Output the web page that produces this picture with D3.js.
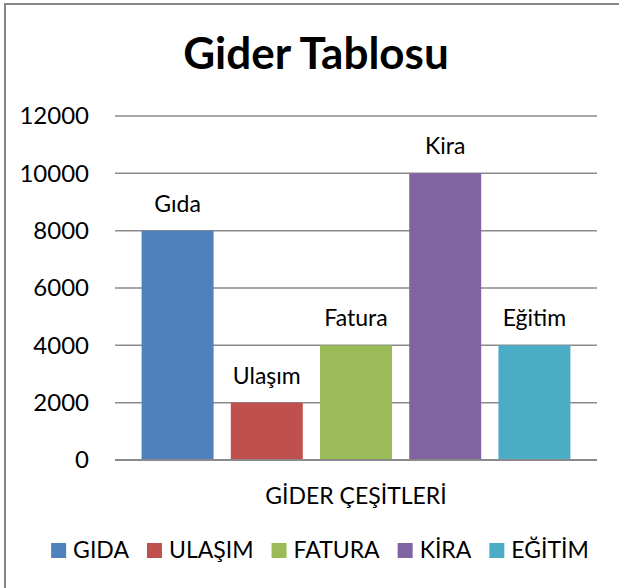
<!DOCTYPE html>
<html>
<head>
    <meta charset="utf-8">
    <title>Gider Tablosu</title>
    <script src="https://cdn.jsdelivr.net/npm/d3@7"></script>
    <style>
        body { margin: 0; background: #fff; }
        text { font-family: Lato, "Open Sans", sans-serif; fill: #000; }
    </style>
</head>
<body>
    <div id="chart"></div>
    <script>
        var categories = ["GİDER ÇEŞİTLERİ"];
        var seriesNames = ["GIDA", "ULAŞIM", "FATURA", "KİRA", "EĞİTİM"];
        var barLabels = ["Gıda", "Ulaşım", "Fatura", "Kira", "Eğitim"];
        var values = [8000, 2000, 4000, 10000, 4000];
        var colors = ["#4F81BD", "#C0504D", "#9BBB59", "#8064A2", "#4BACC6"];
        var yTicks = [0, 2000, 4000, 6000, 8000, 10000, 12000];

        var width = 619, height = 588;
        var plot = {left: 115, right: 597, top: 116, bottom: 460};

        var svg = d3.select("#chart").append("svg")
            .attr("width", width)
            .attr("height", height);

        // chart border (right and bottom edges fall outside the picture)
        svg.append("rect")
            .attr("x", 5).attr("y", 4)
            .attr("width", 800).attr("height", 800)
            .attr("fill", "none")
            .attr("stroke", "#868686")
            .attr("stroke-width", 2);

        svg.append("text")
            .attr("x", 316).attr("y", 69)
            .attr("text-anchor", "middle")
            .style("font-size", "44px")
            .style("font-weight", "bold")
            .text("Gider Tablosu");

        var y = d3.scaleLinear().domain([0, 12000]).range([plot.bottom, plot.top]);

        var x0 = d3.scaleBand().domain(categories)
            .range([plot.left, plot.right])
            .paddingInner(0).paddingOuter(0.062);
        var x1 = d3.scaleBand().domain(seriesNames)
            .range([0, x0.bandwidth()])
            .paddingInner(0.193).paddingOuter(0);

        // gridlines
        svg.append("g")
            .selectAll("line")
            .data(yTicks.filter(function(d) { return d > 0; }))
            .enter().append("line")
            .attr("x1", plot.left).attr("x2", plot.right)
            .attr("y1", function(d) { return y(d); })
            .attr("y2", function(d) { return y(d); })
            .attr("stroke", "#8a8a8a")
            .attr("stroke-width", 1.5);

        // y axis labels
        var yAxis = d3.axisLeft(y).tickValues(yTicks).tickFormat(d3.format("d"))
            .tickSize(0).tickPadding(26);
        var gy = svg.append("g")
            .attr("transform", "translate(" + plot.left + ",0)")
            .call(yAxis);
        gy.select(".domain").remove();
        gy.selectAll("text")
            .style("font-family", "Lato, sans-serif")
            .style("font-size", "24px")
            .attr("fill", "#000");

        var data = seriesNames.map(function(s, i) {
            return {series: s, label: barLabels[i], value: values[i], color: colors[i], cat: categories[0]};
        });

        var bars = svg.append("g");
        bars.selectAll("rect")
            .data(data)
            .enter().append("rect")
            .attr("x", function(d) { return x0(d.cat) + x1(d.series); })
            .attr("y", function(d) { return y(d.value); })
            .attr("width", x1.bandwidth())
            .attr("height", function(d) { return y(0) - y(d.value); })
            .attr("fill", function(d) { return d.color; });

        bars.selectAll("text")
            .data(data)
            .enter().append("text")
            .attr("x", function(d) { return x0(d.cat) + x1(d.series) + x1.bandwidth() / 2; })
            .attr("y", function(d) { return y(d.value) - 19; })
            .attr("text-anchor", "middle")
            .style("font-size", "23px")
            .text(function(d) { return d.label; });

        // x axis line
        svg.append("line")
            .attr("x1", plot.left).attr("x2", plot.right)
            .attr("y1", y(0)).attr("y2", y(0))
            .attr("stroke", "#8a8a8a")
            .attr("stroke-width", 2.2);

        // category label
        var xAxis = d3.axisBottom(x0).tickSize(0).tickPadding(28);
        var gx = svg.append("g")
            .attr("transform", "translate(0," + y(0) + ")")
            .call(xAxis);
        gx.select(".domain").remove();
        gx.selectAll("text")
            .style("font-family", "Lato, sans-serif")
            .style("font-size", "23px")
            .attr("fill", "#000");

        // legend
        var legend = svg.append("g");
        var items = legend.selectAll("g")
            .data(data)
            .enter().append("g");
        items.append("rect")
            .attr("width", 15).attr("height", 15)
            .attr("y", 543)
            .attr("fill", function(d) { return d.color; });
        items.append("text")
            .attr("x", 22).attr("y", 558)
            .style("font-size", "23px")
            .text(function(d) { return d.series; });

        var pos = 0, offsets = [];
        items.each(function() {
            offsets.push(pos);
            pos += 22 + d3.select(this).select("text").node().getComputedTextLength() + 18;
        });
        var total = pos - 18;
        var start = 320 - total / 2;
        items.attr("transform", function(d, i) { return "translate(" + (start + offsets[i]) + ",0)"; });
    </script>
</body>
</html>
